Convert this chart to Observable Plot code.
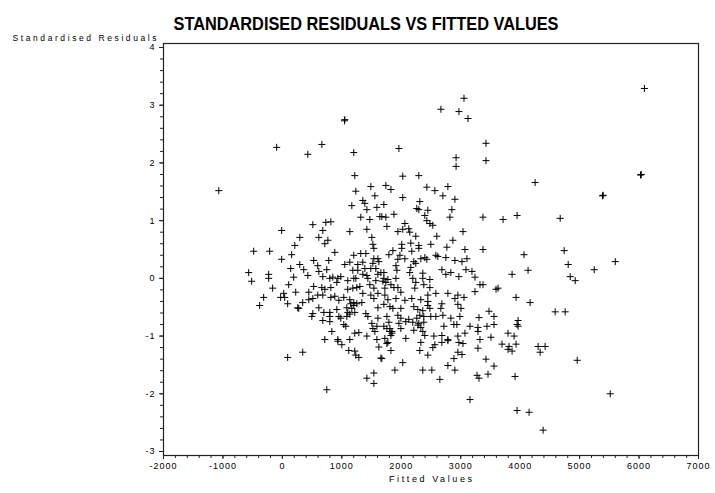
<!DOCTYPE html>
<html><head><meta charset="utf-8">
<script src="https://cdn.jsdelivr.net/npm/d3@7"></script>
<script src="https://cdn.jsdelivr.net/npm/@observablehq/plot@0.6"></script>
<style>
body{margin:0;background:#fff;}
svg text{letter-spacing:1px;}
</style>
</head><body>
<div id="chart"></div>
<script>
// [fitted value, standardised residual]
const upperPoints = [
[-1070,1.52],[-96,2.27],[428,2.15],[664,2.32],[1050,2.75],[1045,2.73],[1201,2.18],[1960,2.25],[2667,2.93],
[2970,2.89],[3055,3.12],[3122,2.77],[3425,2.34],[6090,3.29],[2922,2.09],[2922,1.94],[3425,2.04]
];
const upperMiddle = [
[2025,1.77],[2295,1.78],[1741,1.61],[1826,1.54],[2430,1.58],[2565,1.52],[2784,1.59],[2700,1.43],
[2025,1.40],[2902,1.37],[1707,1.28],[2312,1.33],[2261,1.21],[2295,1.19],[2447,1.18],[2851,1.19],
[2396,1.09],[2818,1.06],[1673,1.07],[1741,1.06],[1876,1.11],[2430,1.00],[2481,0.95],[2531,0.92],
[3375,1.06],[3712,1.02],[3948,1.09],[3038,0.81],[1758,0.90],[1943,0.81],[2061,0.95],[2025,0.85],
[2126,0.86],[2143,0.80],[2244,0.73],[2598,0.73],[2868,0.66],[2008,0.59],[2160,0.61],[2295,0.57],[2497,0.59]
];
const upperLeft = [
[1218,1.78],[1488,1.59],[1235,1.51],[1556,1.43],[1353,1.35],[1387,1.30],[1168,1.26],[1590,1.23],
[1421,1.19],[1319,1.06],[1471,1.02],[1640,1.07],[512,0.93],[731,0.97],[815,0.98],[680,0.83],
[1134,0.81],[1421,0.85],[-12,0.83],[293,0.71],[613,0.71],[765,0.66],[714,0.60],[209,0.57],
[1505,0.71],[1522,0.59]
];
const centreLeft = [
[-483,0.47],[-214,0.47],[156,0.41],[-12,0.33],[527,0.31],[780,0.31],[882,0.45],[293,0.24],
[595,0.22],[140,0.17],[359,0.15],[613,0.12],[747,0.15],[1050,0.24],[1134,0.28],[1201,0.40],
[1319,0.43],[1404,0.43],[1539,0.52],[1607,0.34],[1539,0.34],[1353,0.28],[1269,0.24],[-567,0.10],
[-231,0.07],[-231,0.00],[428,0.05],[680,0.03],[798,0.00],[848,0.02],[933,0.00],[983,0.03],
[1185,0.14],[1269,0.14],[1387,0.17],[1488,0.17],[1572,0.17],[1353,0.07],[1421,0.05],[1607,0.07],
[1100,-0.04],[1201,0.00],[1235,0.00],[190,0.02],[-517,-0.05],[-164,-0.17],[106,-0.11],[224,-0.24],
[444,-0.24],[527,-0.14],[663,-0.16],[714,-0.19],[815,-0.16],[916,-0.07],[1100,-0.19],[1185,-0.17],
[1252,-0.16],[1303,-0.14],[1471,-0.11],[1539,-0.17],[1607,-0.26],[-315,-0.33],[-29,-0.33],[39,-0.33],
[22,-0.26],[342,-0.42],[444,-0.37],[512,-0.35],[595,-0.29],[680,-0.29],[815,-0.33],[882,-0.31],
[950,-0.38],[1033,-0.33],[1134,-0.37],[1201,-0.42],[1252,-0.44],[1201,-0.47],[1336,-0.42],[1353,-0.26],
[-382,-0.47],[89,-0.44],[258,-0.51],[275,-0.52],[613,-0.51],[697,-0.59],[798,-0.59],[916,-0.54],
[1084,-0.51],[1168,-0.52],[1218,-0.59],[1404,-0.61],[1607,-0.51],[512,-0.61],[495,-0.66],[798,-0.66],
[950,-0.66],[1084,-0.66],[983,-0.69],[1134,-0.62],[1438,-0.66],[680,-0.73],[798,-0.75],[1033,-0.80],
[1067,-0.83],[1505,-0.78],[1590,-0.83],[1522,-0.87],[832,-0.92],[1218,-0.95],[1286,-0.94],[1421,-1.00],
[714,-1.06],[933,-1.06],[1134,-1.06],[1590,-1.06],[1556,-0.92],
[1522,0.26],[1623,0.29],[1438,0.00],[1572,-0.04],[1488,-0.29],[1539,-0.35],[1100,-0.59],[1607,-0.69],[1151,-0.44]
];
const lowerLeft = [
[89,-1.37],[342,-1.28],[933,-1.09],[1000,-1.15],[1117,-1.25],[1218,-1.26],[1235,-1.33],[1286,-1.37],
[1623,-1.19],[1657,-1.38],[1539,-1.64],[1421,-1.73],[1539,-1.82],[747,-1.93]
];
const centreRight = [
[1859,0.48],[2008,0.52],[2177,0.47],[2295,0.52],[2767,0.54],[3071,0.50],[3375,0.50],[4065,0.41],
[1792,0.41],[1977,0.40],[2061,0.34],[1943,0.33],[2211,0.29],[2329,0.34],[2396,0.36],[2430,0.33],
[2582,0.40],[2615,0.38],[2750,0.36],[2902,0.31],[3021,0.29],[3105,0.34],[2244,0.26],[1910,0.22],
[2160,0.19],[1657,0.10],[1707,0.10],[1926,0.14],[2143,0.10],[2362,0.09],[2683,0.15],[2750,0.07],
[2834,0.10],[2969,0.03],[3088,0.15],[3189,0.12],[3240,0.02],[3864,0.07],[4133,0.14],[1707,0.00],
[1775,-0.02],[1910,0.00],[2194,0.00],[2362,0.00],[2481,-0.02],[2244,-0.07],[2379,-0.11],[2481,-0.16],
[1826,-0.11],[1876,-0.16],[1943,-0.16],[1724,-0.17],[2227,-0.17],[2582,-0.26],[2784,-0.26],[2952,-0.29],
[2902,-0.35],[3055,-0.33],[3240,-0.23],[3324,-0.11],[3375,-0.11],[3594,-0.19],[3628,-0.17],[3931,-0.33],
[4167,-0.42],[1724,-0.29],[1775,-0.37],[1707,-0.45],[1910,-0.35],[2061,-0.38],[2177,-0.35],[2329,-0.37],
[2447,-0.40],[2683,-0.44],[2952,-0.45],[1809,-0.49],[1859,-0.52],[1993,-0.52],[2211,-0.49],[2278,-0.54],
[2362,-0.56],[2447,-0.47],[2481,-0.52],[2666,-0.52],[3004,-0.52],[1758,-0.66],[1943,-0.64],[1993,-0.69],
[2126,-0.71],[2261,-0.69],[2312,-0.64],[2379,-0.66],[2497,-0.66],[2582,-0.66],[2700,-0.64],[2834,-0.69],
[2986,-0.66],[3307,-0.68],[3560,-0.66],[3476,-0.57],[3965,-0.73],[2076,-0.75],[2194,-0.76],[2295,-0.78],
[2379,-0.76],[2717,-0.83],[2885,-0.80],[2935,-0.80],[3156,-0.83],[3290,-0.85],[3442,-0.83],[3560,-0.80],
[3948,-0.80],[3965,-0.83],[1707,-0.83],[1809,-0.87],[1843,-0.92],[1993,-0.87],[1843,-0.95],[1826,-0.99],
[2211,-0.90],[2362,-0.92],[2396,-0.99],[2548,-1.00],[2683,-0.99],[2952,-1.00],[3071,-0.95],[3290,-0.92],
[3796,-0.95],[3898,-1.00],[1724,-1.04],[2076,-1.04],[2784,-1.06],[3324,-1.06],[3509,-1.02],
[1690,-0.05],[1741,-0.07],[1792,-0.76],[1758,-0.87],[1809,-0.92],[1960,-0.78],[2278,-0.81],[2329,-0.85],
[2447,-0.29],[1993,-0.24]
];
const lowerRight = [
[1758,-1.13],[1775,-1.11],[1826,-1.25],[2329,-1.11],[2565,-1.15],[2531,-1.20],[2683,-1.11],[2784,-1.08],
[2969,-1.11],[3038,-1.13],[2312,-1.25],[2447,-1.33],[2952,-1.28],[3021,-1.32],[2885,-1.39],[3290,-1.21],
[3425,-1.40],[3695,-1.14],[3813,-1.18],[3796,-1.23],[3864,-1.26],[3931,-1.14],[2025,-1.46],[1673,-1.39],
[2784,-1.51],[3560,-1.52],[1893,-1.59],[2362,-1.59],[2514,-1.59],[2902,-1.59],[2649,-1.75],[3274,-1.68],
[3307,-1.73],[3459,-1.66],[3914,-1.70],[3156,-2.10],[3948,-2.29],[4150,-2.32]
];
const farRight = [
[4251,1.66],[6037,1.80],[6025,1.79],[5397,1.44],[5385,1.43],[4673,1.04],[4740,0.48],[4808,0.24],
[5246,0.15],[5600,0.29],[4842,0.03],[4926,-0.04],[4589,-0.58],[4757,-0.58],[4302,-1.18],[4420,-1.18],
[4336,-1.28],[4960,-1.42],[5515,-2.00],[4386,-2.63]
];

const xTicks = [-2000,-1000,0,1000,2000,3000,4000,5000,6000,7000];
const yTicks = [-3,-2,-1,0,1,2,3,4];
const xMinorTicks = d3.range(-2000, 7001, 200);
const yMinorTicks = d3.range(-3, 4.0001, 0.2).map(v => +v.toFixed(1));
const titleText = "STANDARDISED RESIDUALS VS FITTED VALUES";
const xLabel = "Fitted Values";
const yLabel = "Standardised Residuals";

const points = [...upperPoints, ...upperMiddle, ...upperLeft, ...centreLeft, ...lowerLeft,
  ...centreRight, ...lowerRight, ...farRight].map(([fitted, resid]) => ({fitted, resid}));

const chart = Plot.plot({
  width: 715, height: 493,
  marginLeft: 163, marginRight: 17, marginTop: 43, marginBottom: 38,
  style: {fontFamily: "'Liberation Sans', Arial, sans-serif", fontSize: "9px", background: "#fff", color: "#000", overflow: "visible"},
  x: {domain: [-2000, 7000]},
  y: {domain: [-3, 4], insetTop: 4, insetBottom: 4},
  marks: [
    Plot.axisX(xMinorTicks, {tickSize: 3, tickFormat: () => "", label: null, stroke: "#222"}),
    Plot.axisX(xTicks, {tickSize: 4, tickPadding: 3, tickFormat: d => String(d), label: null, stroke: "#222"}),
    Plot.axisY(yMinorTicks, {tickSize: 3, tickFormat: () => "", label: null, stroke: "#222"}),
    Plot.axisY(yTicks, {tickSize: 4, tickPadding: 4, tickFormat: d => String(d), label: null, stroke: "#222"}),
    Plot.frame({stroke: "#222", strokeWidth: 1.2}),
    Plot.dot(points, {x: "fitted", y: "resid", symbol: "plus", r: 2.4, stroke: "#000", strokeWidth: 1}),
    Plot.text([titleText], {text: d => d, frameAnchor: "top", dx: -65, dy: -26, fontSize: 18, fontWeight: "bold", fill: "#000"}),
    Plot.text([yLabel], {text: d => d, frameAnchor: "top-left", textAnchor: "end", dx: -6, dy: -9, fontSize: 8.5, fill: "#000"}),
    Plot.text([xLabel], {text: d => d, frameAnchor: "bottom", dy: 26, fontSize: 9, fill: "#000"})
  ]
});
document.getElementById("chart").append(chart);

d3.select(chart).selectAll("text").each(function() {
  const t = this.textContent;
  const s = d3.select(this);
  if (t === titleText) s.attr("textLength", 385).attr("lengthAdjust", "spacingAndGlyphs").style("letter-spacing", "0px");
  else if (t === yLabel) s.attr("textLength", 145).attr("lengthAdjust", "spacing");
  else if (t === xLabel) s.attr("textLength", 84).attr("lengthAdjust", "spacing");
});
</script>
</body></html>
